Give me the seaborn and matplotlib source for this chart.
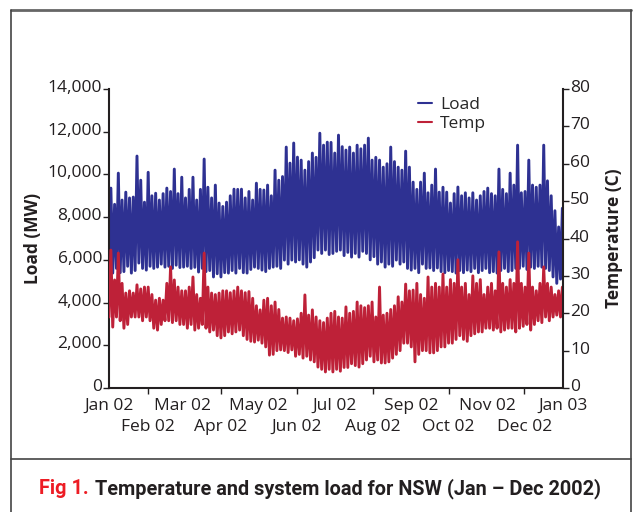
import numpy as np
import pandas as pd
import matplotlib
matplotlib.use("Agg")
import matplotlib.pyplot as plt
import matplotlib.transforms as mtransforms
from matplotlib.lines import Line2D
import seaborn as sns

# ---- data (every 3rd day: daily peak / trough) ----
load_high = [9360, 8600, 10060, 8800, 9170, 8900, 8940, 10860, 9730, 8700,
             10100, 9000, 9120, 8800, 9100, 9360, 9200, 10250, 9100, 9870,
             8900, 9300, 9870, 8800, 9300, 10720, 9400, 8900, 9500, 8660,
             8500, 8700, 9000, 9310, 9300, 9310, 8900, 9200, 8800, 9590,
             9300, 9270, 9500, 9000, 10200, 9730, 9900, 11280, 10530, 11470,
             10810, 10670, 10200, 10600, 11000, 10800, 11930, 11370, 11510, 11500,
             11000, 11840, 11300, 11140, 11280, 11000, 11370, 11200, 11370, 11700,
             10670, 10800, 10670, 10340, 10500, 11280, 10600, 10340, 10200, 11090,
             10340, 9640, 9300, 9640, 10060, 9140, 9500, 10250, 9170, 9400,
             9170, 8660, 9100, 9410, 9000, 9140, 8900, 9140, 8800, 9000,
             9200, 9360, 9100, 9000, 10250, 9300, 9100, 10060, 9500, 11370,
             9140, 9200, 10670, 9500, 9400, 9500, 11370, 9700, 9000, 8300,
             7540, 8420]
load_low = [5500, 5380, 5600, 5400, 5450, 5700, 5380, 5500, 5850, 5600,
            5520, 5700, 5600, 5660, 5800, 5660, 5700, 5600, 5750, 5640,
            5660, 5700, 5600, 5650, 5430, 5600, 5450, 5500, 5200, 5350,
            5200, 5400, 5380, 5500, 5380, 5600, 5400, 5380, 5550, 5660,
            5600, 5520, 5450, 5600, 5660, 5700, 5600, 5990, 5800, 5990,
            5900, 6000, 5800, 5660, 5900, 6100, 6460, 6300, 6460, 6250,
            6300, 6400, 6460, 6200, 6350, 6130, 6300, 6130, 6400, 6300,
            6000, 6150, 5800, 5900, 5660, 5800, 5700, 5990, 5800, 5900,
            5600, 5520, 5600, 5400, 5800, 5600, 5620, 5500, 5620, 5450,
            5400, 5500, 5450, 5380, 5500, 5400, 5520, 5450, 5600, 5400,
            5500, 5600, 5400, 5450, 5380, 5500, 5600, 5450, 5500, 5600,
            5600, 5700, 5550, 5660, 5600, 5700, 5660, 5600, 5500, 5200,
            4900, 5100]
temp_high = [36.9, 28.9, 36.1, 28.0, 25.4, 26.0, 25.4, 27.6, 26.5, 27.0,
             27.0, 25.0, 23.5, 24.0, 23.5, 28.0, 32.4, 28.9, 27.0, 26.0,
             26.0, 27.0, 29.7, 25.0, 24.0, 36.1, 27.0, 25.4, 25.0, 25.4,
             26.0, 26.0, 25.5, 26.0, 27.0, 26.0, 25.5, 25.8, 24.0, 22.0,
             20.9, 23.5, 24.0, 22.0, 23.0, 21.0, 18.7, 19.0, 18.7, 18.0,
             18.5, 20.0, 24.9, 19.5, 20.9, 19.0, 18.0, 17.5, 18.7, 20.0,
             20.5, 19.0, 18.7, 21.7, 20.0, 20.5, 23.0, 22.0, 21.5, 22.0,
             23.0, 19.0, 27.0, 19.5, 20.0, 21.0, 22.0, 24.4, 23.0, 27.8,
             26.0, 26.2, 28.0, 25.0, 24.0, 29.7, 27.0, 28.0, 27.0, 30.5,
             27.0, 29.0, 28.0, 34.3, 27.0, 28.0, 25.0, 30.0, 28.0, 29.0,
             25.0, 27.0, 28.0, 26.0, 36.4, 28.0, 27.0, 29.0, 28.0, 39.1,
             28.0, 27.0, 36.1, 27.0, 26.0, 28.0, 32.4, 28.0, 27.0, 25.0,
             26.0, 27.0]
temp_low = [19.0, 16.3, 19.0, 18.0, 16.0, 17.0, 19.0, 19.0, 19.0, 18.0,
            19.0, 18.0, 16.0, 15.5, 17.0, 18.0, 18.0, 17.5, 18.0, 17.0,
            17.0, 16.0, 17.0, 15.5, 16.0, 17.0, 16.0, 15.0, 15.5, 14.0,
            13.4, 14.0, 15.0, 14.5, 15.0, 15.5, 14.0, 13.0, 12.5, 12.3,
            12.8, 12.0, 11.0, 8.8, 9.0, 10.0, 10.2, 10.0, 9.5, 10.2,
            8.5, 9.0, 8.0, 8.5, 7.5, 7.0, 5.6, 5.0, 4.3, 5.0,
            4.3, 5.0, 4.5, 5.5, 5.5, 6.5, 6.0, 5.6, 6.5, 7.5,
            8.5, 7.0, 7.5, 6.7, 6.7, 7.0, 8.0, 9.0, 10.0, 12.0,
            12.0, 11.0, 7.0, 9.0, 10.0, 10.0, 9.4, 9.4, 10.0, 11.0,
            11.0, 12.0, 12.0, 13.0, 14.0, 13.0, 12.5, 14.0, 14.5, 15.0,
            15.0, 16.0, 16.0, 15.5, 16.0, 15.0, 15.5, 16.0, 16.0, 15.0,
            16.0, 16.5, 17.0, 15.5, 17.0, 18.0, 17.5, 19.0, 18.0, 19.0,
            19.5, 19.0]
month_labels = ["Jan 02", "Feb 02", "Mar 02", "Apr 02", "May 02", "Jun 02",
                "Jul 02", "Aug 02", "Sep 02", "Oct 02", "Nov 02", "Dec 02",
                "Jan 03"]
load_ticks = [0, 2000, 4000, 6000, 8000, 10000, 12000, 14000]
temp_ticks = [0, 10, 20, 30, 40, 50, 60, 70, 80]
caption_tag = "Fig 1."
caption_text = "Temperature and system load for NSW (Jan \u2013 Dec 2002)"

# ---- build long tables: trough then peak for each 3-day sample ----
start = pd.Timestamp("2002-01-01")
def zigzag(lows, highs):
    xs, ys = [], []
    for k, (lo, hi) in enumerate(zip(lows, highs)):
        xs.append(start + pd.Timedelta(days=3 * k))
        ys.append(lo)
        xs.append(start + pd.Timedelta(days=3 * k + 1.5))
        ys.append(hi)
    return pd.DataFrame({"date": xs, "value": ys})

df_load = zigzag(load_low, load_high)
df_temp = zigzag(temp_low, temp_high)

sns.set_theme(style="white")
plt.rcParams["font.family"] = ["Open Sans", "DejaVu Sans"]
dark = "#231F20"
blue = "#2E3192"
red = "#BE2138"

fig = plt.figure(figsize=(6.4, 5.12), dpi=100)
ax = fig.add_axes([109 / 640, 1 - 388 / 512, (563 - 109) / 640, (388 - 89) / 512])
ax2 = ax.twinx()

sns.lineplot(data=df_load, x="date", y="value", ax=ax, color=blue, lw=2.1,
             estimator=None, sort=False)
sns.lineplot(data=df_temp, x="date", y="value", ax=ax2, color=red, lw=2.1,
             estimator=None, sort=False)

ax.set_xlim(pd.Timestamp("2002-01-01"), pd.Timestamp("2003-01-01"))
ax.set_ylim(0, 14000)
ax2.set_ylim(0, 80)

ax.set_yticks(load_ticks)
ax.set_yticklabels([f"{v:,}" for v in load_ticks])
ax2.set_yticks(temp_ticks)
ax2.set_yticklabels([str(v) for v in temp_ticks])

month_pos = list(pd.date_range("2002-01-01", "2003-01-01", freq="MS"))
ax.set_xticks(month_pos[0::2])
ax.set_xticklabels(month_labels[0::2])
ax.set_xticks(month_pos[1::2], minor=True)
ax.set_xticklabels(month_labels[1::2], minor=True)

for a in (ax, ax2):
    a.set_xlabel("")
    a.grid(False)
    for s in a.spines.values():
        s.set_color(dark)
        s.set_linewidth(1.5)
    a.spines["top"].set_visible(False)
    a.tick_params(which="both", colors=dark, labelsize=12.5, length=4, width=1, direction="out")
ax2.spines["left"].set_visible(False)
ax2.spines["bottom"].set_visible(False)
ax.spines["right"].set_visible(False)
ax.tick_params(axis="x", which="major", pad=3)
ax.tick_params(axis="x", which="minor", pad=18, bottom=True)
ax.tick_params(axis="y", pad=1)
ax2.tick_params(axis="y", pad=1)

# y tick labels sit a little above their ticks in the reference
up = mtransforms.ScaledTranslation(0, 3 / 100, fig.dpi_scale_trans)
for lab in ax.get_yticklabels() + ax2.get_yticklabels():
    lab.set_transform(lab.get_transform() + up)

ax.set_ylabel("Load (MW)", fontsize=12.5, fontweight="bold", color=dark, labelpad=4)
ax2.set_ylabel("Temperature (C)", fontsize=12.5, fontweight="bold", color=dark, labelpad=11)

handles = [Line2D([], [], color=blue, lw=1.5), Line2D([], [], color=red, lw=1.5)]
fig.legend(handles, ["Load", "Temp"], loc="upper left",
           bbox_to_anchor=(409 / 640, 1 - 88 / 512), frameon=False,
           fontsize=12.5, handlelength=0.8, handletextpad=0.5,
           labelspacing=0.15, borderpad=0)

# frame lines
frame_col = "#444444"
fig.add_artist(Line2D([11 / 640, 631 / 640], [1 - 10 / 512, 1 - 10 / 512], color="#666666", lw=2, transform=fig.transFigure))
fig.add_artist(Line2D([11 / 640, 11 / 640], [0, 1 - 10 / 512], color=frame_col, lw=1.2, transform=fig.transFigure))
fig.add_artist(Line2D([631 / 640, 631 / 640], [0, 1 - 10 / 512], color=frame_col, lw=1.2, transform=fig.transFigure))
fig.add_artist(Line2D([11 / 640, 631 / 640], [1 - 459 / 512, 1 - 459 / 512], color=frame_col, lw=1.2, transform=fig.transFigure))

# caption, sized to span the same width as the reference (x 39..600)
cap_font = ["Roboto", "Open Sans", "DejaVu Sans"]
fs = 15.0
cap_y = 1 - 489 / 512
t1 = fig.text(39 / 640, cap_y, caption_tag, color="#ED1C24", fontsize=fs,
              fontweight="bold", family=cap_font, va="center", ha="left")
t2 = fig.text(0, cap_y, caption_text, color=dark, fontsize=fs,
              fontweight="bold", family=cap_font, va="center", ha="left")
r = fig.canvas.get_renderer()
for _ in range(3):
    b1 = t1.get_window_extent(r)
    t2.set_x((b1.x1 + 6) / 640)
    b2 = t2.get_window_extent(r)
    total = b2.x1 - b1.x0
    fs = fs * (600 - 39) / total
    t1.set_fontsize(fs)
    t2.set_fontsize(fs)
b1 = t1.get_window_extent(r)
t2.set_x((b1.x1 + 6) / 640)

fig.savefig("out.png", dpi=100)
